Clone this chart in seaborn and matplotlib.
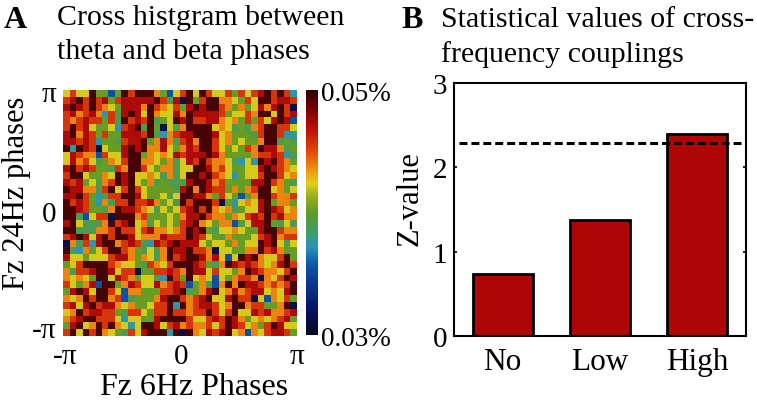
import numpy as np
import matplotlib
matplotlib.use("Agg")
import matplotlib.pyplot as plt
from matplotlib.colors import LinearSegmentedColormap
import seaborn as sns

sns.set_style("white")
plt.rcParams['font.family'] = ['Liberation Serif', 'DejaVu Serif']
plt.rcParams['text.color'] = 'black'
plt.rcParams['axes.labelcolor'] = 'black'
plt.rcParams['xtick.color'] = 'black'
plt.rcParams['ytick.color'] = 'black'

# heat-map rows, top (+pi) to bottom (-pi); digit = colour class
hist_rows = [
    "575594414979996415795975574757897972",
    "789797847888889738094799665475997887",
    "898797654888697657489899764645868970",
    "786786273898596558698888745576995978",
    "767877473978793459897788656474758981",
    "797854452789394053699995653436799775",
    "896874744888793267889998564443799722",
    "887872443788946863786997564544699343",
    "929870544898966854687997545476988634",
    "587661755899465658788898644446778723",
    "586753465799665463587976653252989764",
    "897874437699754663559986754455898765",
    "799544659895565363599897652455799756",
    "878453679895463433389986744448897643",
    "988663795797544443896987746467995645",
    "889742377998544535998864754146997667",
    "978742637797786453979997042565894664",
    "998744369887653545789796563455898756",
    "993157709996744454688976646578797866",
    "895333697895635454789654661358894353",
    "993336679775786656798943556544899766",
    "789858979985666877798754364445789677",
    "063728996787328789888545546455989535",
    "932645799764353698897760554466978644",
    "855455578864653697899868515989655794",
    "457999976554376579998743698787656897",
    "637789985770447787698857554698766579",
    "656549958764553297495651546776065798",
    "754681994687558678714631696988767679",
    "489859975166444778934689568678856589",
    "656979967134446899767895589770516574",
    "785897886564457792967887569967744690",
    "569788774377547797767797579558786678",
    "678997775255448999975578798645656784",
    "489569796525998578676675798756479855",
    "795979654375899929096587895616578874",
]
# percentage for each colour class
class_values = [0.0314, 0.0354, 0.0374, 0.0390, 0.0402, 0.0422, 0.0438, 0.0456, 0.0472, 0.0494]

levels_low = 0.03
levels_high = 0.05
hist_values = np.array([[class_values[int(c)] for c in r] for r in hist_rows])

categories = ["No", "Low", "High"]
z_values = [0.73, 1.37, 2.39]
threshold = 2.29

cmap = LinearSegmentedColormap.from_list("eeg", [
    (0.00, "#05051f"), (0.12, "#07186b"), (0.28, "#0a55a8"), (0.36, "#2a93b8"),
    (0.42, "#3f9e6b"), (0.50, "#5e9a25"), (0.57, "#9fb01e"), (0.62, "#e0cf18"),
    (0.68, "#ee8e10"), (0.75, "#e04a08"), (0.84, "#c00d08"), (0.92, "#7a0505"),
    (1.00, "#2e0202")])

W, H = 757, 402
fig = plt.figure(figsize=(W / 100, H / 100), dpi=100, facecolor="white")
def box(l, t, r, b):
    return [l / W, 1 - b / H, (r - l) / W, (b - t) / H]

ax = fig.add_axes(box(63, 91, 297, 337))
cax = fig.add_axes(box(306, 91, 318, 336))
sns.heatmap(hist_values, ax=ax, cmap=cmap, vmin=levels_low, vmax=levels_high, cbar_ax=cax,
            cbar_kws={"ticks": [levels_low, levels_high]}, square=False, xticklabels=False, yticklabels=False)
n = hist_values.shape[0]
ax.set_xticks([0.3, 18.2, 36], ["-π", "0", "π"], fontsize=21)
ax.set_yticks([0.2, 17.7, 34.7], ["π", "0", "-π"], fontsize=21, rotation=0)
ax.tick_params(length=0, pad=5)
ax.set_xlabel("Fz 6Hz Phases", fontsize=23, va="center")
ax.xaxis.set_label_coords(0.56, -0.207)
ax.set_ylabel("Fz 24Hz phases", fontsize=22, va="center")
ax.yaxis.set_label_coords(-0.197, 0.585)
cax.set_yticks([levels_low, levels_high], ["0.03%", "0.05%"], fontsize=19.5)
cax.tick_params(length=0, pad=2)

bx = fig.add_axes(box(454, 84, 746, 337))
sns.barplot(x=categories, y=z_values, ax=bx, color="#ae0606", saturation=1, width=0.615,
            edgecolor="black", linewidth=2.0)
bx.set_xlim(-0.5, 2.5)
bx.set_ylim(0, 3)
bx.axhline(threshold, color="black", ls=(0, (2.6, 1.3)), lw=2.2, xmin=0.017, xmax=0.99)
bx.set_yticks([0, 1, 2, 3])
bx.tick_params(axis="y", labelsize=21, length=2, width=1.2, direction="in", right=True, left=True, pad=5)
bx.tick_params(axis="x", labelsize=22.5, length=0, pad=8)
bx.set_ylabel("Z-value", fontsize=22, va="center")
bx.yaxis.set_label_coords(-0.151, 0.549)
for s in bx.spines.values():
    s.set_visible(True)
    s.set_color("black")
    s.set_linewidth(1.5)

def label(x, y, s, **kw):
    fig.text(x / W, 1 - y / H, s, va="center", **kw)
label(4, 20, "A", fontsize=23, fontweight="bold")
label(57, 18, "Cross histgram between", fontsize=21.5)
label(57, 52, "theta and beta phases", fontsize=21.5)
label(401, 20, "B", fontsize=23, fontweight="bold")
label(441, 20, "Statistical values of cross-", fontsize=21.5)
label(441, 55, "frequency couplings", fontsize=21.5)

fig.savefig("out.png", dpi=100)
